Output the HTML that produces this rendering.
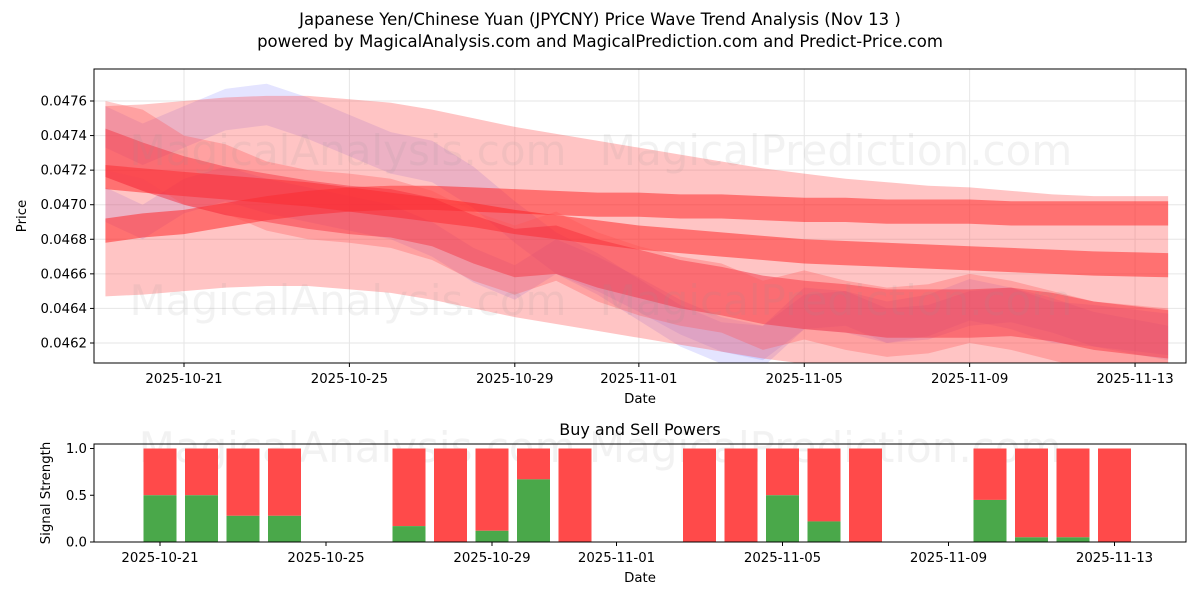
<!DOCTYPE html>
<html><head><meta charset="utf-8"><style>
body{margin:0;background:#fff;font-family:"Liberation Sans","DejaVu Sans",sans-serif}
svg text{font-family:"DejaVu Sans","Liberation Sans",sans-serif}
</style></head><body>
<svg id="c" width="1200" height="600" viewBox="0 0 1200 600">
<text x="600" y="25" text-anchor="middle" font-size="16.5">Japanese Yen/Chinese Yuan (JPYCNY) Price Wave Trend Analysis (Nov 13 )</text>
<text x="600" y="47" text-anchor="middle" font-size="16.5">powered by MagicalAnalysis.com and MagicalPrediction.com and Predict-Price.com</text>
<g id="top"></g>
<g id="bot"></g>
</svg>
<script>
// Top chart data: day offsets from 2025-10-21
const bandDays=[-1.9,-1,0,1,2,3,4,5,6,7,8,9,10,11,12,13,14,15,16,17,18,19,20,21,22,23.8];
const bandCenters=[
 [0.04702,0.04703,0.04705,0.04707,0.04708,0.04708,0.04706,0.04704,0.04700,0.04695,0.04690,0.04686,0.04682,0.04678,0.04674,0.04670,0.04666,0.04663,0.04660,0.04658,0.04656,0.04655,0.04653,0.04651,0.04650,0.04650],
 [0.04716,0.04714,0.04712,0.04710,0.04708,0.04706,0.04703,0.04700,0.04697,0.04694,0.04690,0.04687,0.04684,0.04681,0.04679,0.04677,0.04675,0.04673,0.04672,0.04671,0.04670,0.04669,0.04668,0.04667,0.04666,0.04665],
 [0.04685,0.04688,0.04690,0.04694,0.04698,0.04701,0.04703,0.04704,0.04704,0.04703,0.04702,0.04701,0.04700,0.04700,0.04699,0.04699,0.04698,0.04697,0.04697,0.04696,0.04696,0.04696,0.04695,0.04695,0.04695,0.04695],
 [0.04730,0.04722,0.04714,0.04708,0.04704,0.04700,0.04697,0.04695,0.04690,0.04680,0.04672,0.04674,0.04666,0.04660,0.04654,0.04650,0.04645,0.04642,0.04640,0.04637,0.04637,0.04637,0.04638,0.04635,0.04630,0.04625],
 [0.04740,0.04735,0.04720,0.04715,0.04705,0.04700,0.04698,0.04695,0.04688,0.04676,0.04668,0.04676,0.04664,0.04656,0.04650,0.04646,0.04636,0.04642,0.04636,0.04632,0.04634,0.04640,0.04636,0.04630,0.04624,0.04620]
];
const bandWidths=[0.00055,0.00007,0.00007,0.00014,0.00020];
const bandColors=["rgba(255,70,70,0.32)","rgba(255,30,30,0.5)","rgba(255,30,30,0.5)","rgba(240,20,40,0.42)","rgba(255,80,80,0.3)"];
const blueDays=[-1.9,-1,0,1,2,3,4,5,6,7,8,9,10,11,12,13,14,15,16,17,18,19,20,21,22,23.8];
const blueCenters=[
 [0.04745,0.04735,0.04745,0.04755,0.04758,0.04750,0.04740,0.04730,0.04725,0.04710,0.04690,0.04672,0.04660,0.04645,0.04630,0.04620,0.04618,0.04640,0.04638,0.04632,0.04636,0.04645,0.04640,0.04632,0.04630,0.04625],
 [0.04700,0.04690,0.04705,0.04712,0.04705,0.04700,0.04695,0.04690,0.04680,0.04665,0.04655,0.04670,0.04660,0.04648,0.04635,0.04625,0.04620,0.04638,0.04640,0.04630,0.04632,0.04640,0.04642,0.04636,0.04628,0.04620]
];
const blueWidths=[0.00012,0.00010];
const dateTicks=["2025-10-21","2025-10-25","2025-10-29","2025-11-01","2025-11-05","2025-11-09","2025-11-13"];
const dateTickDays=[0,4,8,11,15,19,23];
const priceTicks=[0.0462,0.0464,0.0466,0.0468,0.0470,0.0472,0.0474,0.0476];
// Bottom chart data
const barDays=[0,1,2,3,6,7,8,9,10,13,14,15,16,17,20,21,22,23];
const buyPower=[0.5,0.5,0.28,0.28,0.17,0,0.12,0.67,0,0,0,0.5,0.22,0,0.45,0.05,0.05,0];
const signalTicks=[0,0.5,1.0];

const NS="http://www.w3.org/2000/svg";
function mk(p,t,a){const e=document.createElementNS(NS,t);for(const k in a)e.setAttribute(k,a[k]);p.appendChild(e);return e;}
const T=document.getElementById('top'),B=document.getElementById('bot');
const L=94,R=1186,TT=69,TB=363,BT=444,BB=542;
const xT=d=>184+d*41.35, yT=v=>101+(0.0476-v)/0.0002*34.57;
const xB=d=>160+d*41.5, yB=v=>542-v*93.5;

const clipDef=mk(document.getElementById('c'),'defs',{});
const cp=mk(clipDef,'clipPath',{id:'cl'});mk(cp,'rect',{x:L,y:TT,width:R-L,height:TB-TT});
const g=mk(T,'g',{'clip-path':'url(#cl)'});
dateTickDays.forEach(d=>{mk(g,'line',{x1:xT(d),x2:xT(d),y1:TT,y2:TB,stroke:'#e6e6e6'});});
priceTicks.forEach(v=>{mk(g,'line',{x1:L,x2:R,y1:yT(v),y2:yT(v),stroke:'#e6e6e6'});});
function band(days,c,w,col){let up=days.map((d,i)=>xT(d)+','+yT(c[i]+w)),dn=days.map((d,i)=>xT(d)+','+yT(c[i]-w)).reverse();
 const p=mk(g,'polygon',{points:up.concat(dn).join(' '),fill:col});
 
 }
blueCenters.forEach((c,i)=>band(blueDays,c,blueWidths[i],'rgba(120,120,255,0.2)'));
bandCenters.forEach((c,i)=>band(bandDays,c,bandWidths[i],bandColors[i]));
[[150,'MagicalAnalysis.com'],[300,'MagicalAnalysis.com']].forEach(([y,t])=>{
 const a=mk(T,'text',{x:348,y:y+15,'text-anchor':'middle','font-size':42,fill:'rgba(150,150,150,0.12)'});a.textContent=t;
 const b=mk(T,'text',{x:836,y:y+15,'text-anchor':'middle','font-size':42,fill:'rgba(150,150,150,0.12)'});b.textContent='MagicalPrediction.com';});
mk(T,'rect',{x:L,y:TT,width:R-L,height:TB-TT,fill:'none',stroke:'#000'});
dateTickDays.forEach((d,i)=>{mk(T,'line',{x1:xT(d),x2:xT(d),y1:TB,y2:TB+4,stroke:'#000'});
 const t=mk(T,'text',{x:xT(d),y:TB+20,'text-anchor':'middle','font-size':13.3});t.textContent=dateTicks[i];
 });
priceTicks.forEach(v=>{mk(T,'line',{x1:L-4,x2:L,y1:yT(v),y2:yT(v),stroke:'#000'});
 const t=mk(T,'text',{x:L-7,y:yT(v)+4.5,'text-anchor':'end','font-size':13.3});t.textContent=v.toFixed(4);
 });
let t=mk(T,'text',{x:640,y:403,'text-anchor':'middle','font-size':13.3});t.textContent='Date';
t=mk(T,'text',{x:26,y:216,'text-anchor':'middle','font-size':13.3,transform:'rotate(-90 26 216)'});t.textContent='Price';

t=mk(B,'text',{x:640,y:435,'text-anchor':'middle','font-size':16});t.textContent='Buy and Sell Powers';
const wm=mk(B,'text',{x:600,y:462,'text-anchor':'middle','font-size':42,fill:'rgba(150,150,150,0.12)'});wm.textContent='MagicalAnalysis.com   MagicalPrediction.com';
barDays.forEach((d,i)=>{const x=xB(d)-16.5;
 const r=mk(B,'rect',{x:x,y:yB(1),width:33,height:yB(buyPower[i])-yB(1),fill:'#ff4a4a'});
 
 const gr=mk(B,'rect',{x:x,y:yB(buyPower[i]),width:33,height:yB(0)-yB(buyPower[i]),fill:'#4aa84a'});
 });
mk(B,'rect',{x:L,y:BT,width:R-L,height:BB-BT,fill:'none',stroke:'#000'});
dateTickDays.forEach((d,i)=>{mk(B,'line',{x1:xB(d),x2:xB(d),y1:BB,y2:BB+4,stroke:'#000'});
 const q=mk(B,'text',{x:xB(d),y:BB+20,'text-anchor':'middle','font-size':13.3});q.textContent=dateTicks[i];});
signalTicks.forEach(v=>{mk(B,'line',{x1:L-4,x2:L,y1:yB(v),y2:yB(v),stroke:'#000'});
 const q=mk(B,'text',{x:L-7,y:yB(v)+4.5,'text-anchor':'end','font-size':13.3});q.textContent=v.toFixed(1);});
t=mk(B,'text',{x:640,y:582,'text-anchor':'middle','font-size':13.3});t.textContent='Date';
t=mk(B,'text',{x:50,y:493,'text-anchor':'middle','font-size':13.3,transform:'rotate(-90 50 493)'});t.textContent='Signal Strength';
</script>
</body></html>
